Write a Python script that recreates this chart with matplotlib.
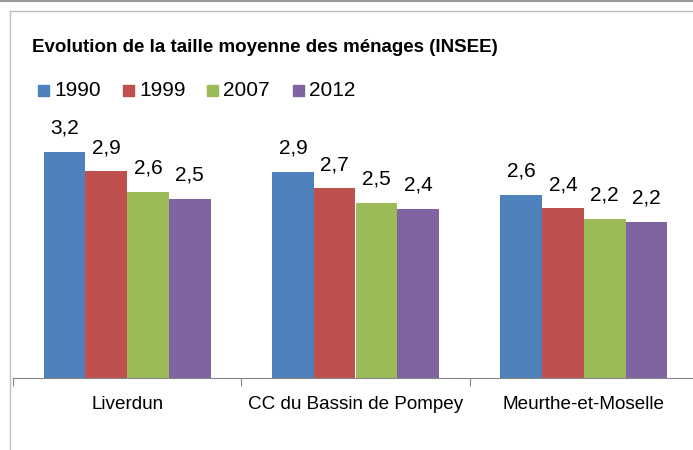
import matplotlib.pyplot as plt
import numpy as np

# data
categories = ["Liverdun", "CC du Bassin de Pompey", "Meurthe-et-Moselle"]
years = ["1990", "1999", "2007", "2012"]
values = {
    "1990": [3.19, 2.90, 2.58],
    "1999": [2.91, 2.67, 2.39],
    "2007": [2.62, 2.47, 2.24],
    "2012": [2.52, 2.38, 2.20],
}
colors = ["#4F81BD", "#C0504D", "#9BBB59", "#8064A2"]
title = "Evolution de la taille moyenne des ménages (INSEE)"

plt.rcParams['font.family'] = ['Liberation Sans', 'DejaVu Sans']

W, H = 693, 450
fig = plt.figure(figsize=(W / 100, H / 100), dpi=100)

# axes in pixel coords: left 13, right 698, baseline 378, 71 px per unit
ax = fig.add_axes([13 / W, (H - 378) / H, 685 / W, 284 / H])
ax.set_xlim(0, 3)
ax.set_ylim(0, 4)

bw = 0.1825
x = np.arange(len(categories)) + 0.5
for i, yr in enumerate(years):
    pos = x + (i - 1.5) * bw
    ax.bar(pos, values[yr], width=bw, color=colors[i], edgecolor="none")
    for p, v in zip(pos, values[yr]):
        ax.text(p, v + 0.2, ("%.1f" % v).replace(".", ","), ha="center",
                va="bottom", fontsize=15)

for s in ["top", "right", "left"]:
    ax.spines[s].set_visible(False)
ax.spines["bottom"].set_color("#868686")
ax.set_yticks([])
ax.set_xticks([0, 1, 2, 3])
ax.set_xticklabels([])
ax.tick_params(axis="x", length=6, color="#868686", direction="out")
ax.set_xticks(x, minor=True)
ax.set_xticklabels(categories, minor=True, fontsize=13.6)
ax.tick_params(axis="x", which="minor", length=0, pad=13)

# chart border lines
fig.add_artist(plt.Line2D([0, 1], [1 - 1 / H, 1 - 1 / H], color="#999999", lw=1.5))
fig.add_artist(plt.Line2D([10 / W, 1], [1 - 11 / H, 1 - 11 / H], color="#bfbfbf", lw=1))
fig.add_artist(plt.Line2D([10 / W, 10 / W], [0, 1 - 11 / H], color="#bfbfbf", lw=1))

fig.text(32 / W, 1 - 48 / H, title, fontsize=13.5, fontweight="bold", va="center")

# legend
lx = [38, 123, 207, 293]
for i, yr in enumerate(years):
    fig.patches.append(plt.Rectangle((lx[i] / W, 1 - 96 / H), 11 / W, 11 / H,
                                     transform=fig.transFigure, color=colors[i]))
    fig.text((lx[i] + 16) / W, 1 - 90 / H, yr, fontsize=15, va="center")

fig.savefig("out.png", dpi=100)
